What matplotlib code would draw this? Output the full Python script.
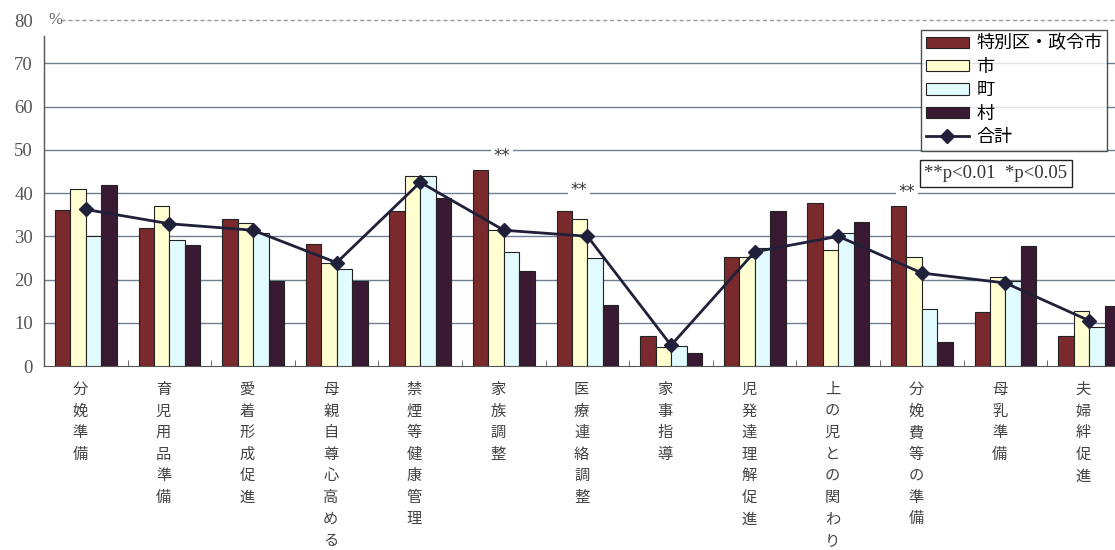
import numpy as np
import matplotlib
matplotlib.use("Agg")
import matplotlib.pyplot as plt

plt.rcParams['font.family'] = ['Noto Sans CJK JP', 'DejaVu Sans']

# カテゴリ
categories = ['分娩準備', '育児用品準備', '愛着形成促進', '母親自尊心高める', '禁煙等健康管理',
              '家族調整', '医療連絡調整', '家事指導', '児発達理解促進', '上の児との関わり',
              '分娩費等の準備', '母乳準備', '夫婦絆促進']

# 各系列の値 (%)
tokubetsu = [36.0, 31.9, 34.1, 28.2, 35.8, 45.4, 35.8, 6.9, 25.2, 37.7, 36.9, 12.4, 6.9]
shi = [41.0, 37.0, 33.0, 23.8, 43.9, 31.5, 34.0, 4.3, 25.2, 26.8, 25.2, 20.5, 12.8]
machi = [30.1, 29.1, 30.8, 22.4, 43.9, 26.4, 25.0, 4.7, 27.2, 30.8, 13.1, 19.7, 9.1]
mura = [41.9, 27.9, 19.6, 19.6, 38.9, 22.0, 14.0, 2.9, 35.8, 33.3, 5.5, 27.8, 13.9]
goukei = [36.2, 32.9, 31.4, 23.9, 42.5, 31.4, 30.0, 4.8, 26.4, 30.0, 21.5, 19.2, 10.5]

series_names = ['特別区・政令市', '市', '町', '村']
series_colors = ['#7a2a2c', '#ffffd2', '#e2fbff', '#3a1a32']

# 有意差マーク (カテゴリ位置, 高さ)
sig_x = [4.98, 5.9, 9.82]
sig_y = [48.6, 40.8, 40.2]

fig = plt.figure(figsize=(11.15, 5.5), dpi=100)
ax = fig.add_axes([0.0395, 0.3345, 0.9605, 0.629])

x = np.arange(len(categories))
w = 0.185
all_vals = [tokubetsu, shi, machi, mura]
handles = []
for i in range(4):
    b = ax.bar(x + (i - 1.5) * w, all_vals[i], width=w, color=series_colors[i],
               edgecolor='#222222', linewidth=0.8, label=series_names[i], zorder=3)
    handles.append(b)

ln, = ax.plot(x, goukei, color='#20203a', linewidth=2, marker='D', markersize=7.5,
              label='合計', zorder=4)
handles.append(ln)

ax.set_xlim(-0.5, 12.31)
ax.set_ylim(0, 80)

# グリッド
for v in range(10, 80, 10):
    ax.axhline(v, color='#6f7f90', linewidth=1, zorder=1)
ax.plot([-0.3, 12.31], [80, 80], color='#999999', linewidth=1,
        linestyle=(0, (3, 2)), zorder=1, clip_on=False)

for s in ['top', 'right', 'left']:
    ax.spines[s].set_visible(False)
ax.spines['bottom'].set_color('#555555')
ax.plot([-0.5, -0.5], [0, 76.3], color='#555555', linewidth=1, clip_on=False, zorder=2)

ax.set_yticks(range(0, 90, 10))
ax.set_yticklabels([str(v) for v in range(0, 90, 10)], family='Liberation Serif',
                   fontsize=13.5, color='#555555')
ax.tick_params(axis='y', length=0, pad=8)
ax.text(-0.36, 80, '%', fontsize=12, color='#666666', va='center', ha='center',
        family='Liberation Serif')

ax.set_xticks(x)
ax.set_xticklabels([])
ax.tick_params(axis='x', length=0)
ax.set_xticks(x[:-1] + 0.5, minor=True)
ax.tick_params(axis='x', which='minor', direction='in', length=4, color='#555555')

for i, c in enumerate(categories):
    ax.text(i - 0.07, -3.5, '\n'.join(c), ha='center', va='top', fontsize=11,
            color='#444444', linespacing=1.35)

for xv, yv in zip(sig_x, sig_y):
    ax.text(xv, yv, '**', ha='center', va='center', fontsize=12, color='#333333',
            family='DejaVu Sans', zorder=7,
            bbox=dict(facecolor='white', edgecolor='none', pad=2))

leg = ax.legend(handles=handles, loc='upper left', bbox_to_anchor=(0.819, 0.971),
                fontsize=13, frameon=True, fancybox=False, edgecolor='#222222',
                borderaxespad=0, handlelength=2.4, handleheight=0.6, labelspacing=0.3,
                borderpad=0.25, handletextpad=0.4)
leg.get_frame().set_linewidth(1)
leg.set_zorder(6)

ax.text(0.822, 0.557, '**p<0.01  *p<0.05', transform=ax.transAxes, fontsize=13.5,
        family='Liberation Serif', color='#333333', va='center', ha='left', zorder=6,
        bbox=dict(facecolor='white', edgecolor='#222222', boxstyle='square,pad=0.25'))

fig.savefig('out.png', dpi=100)
